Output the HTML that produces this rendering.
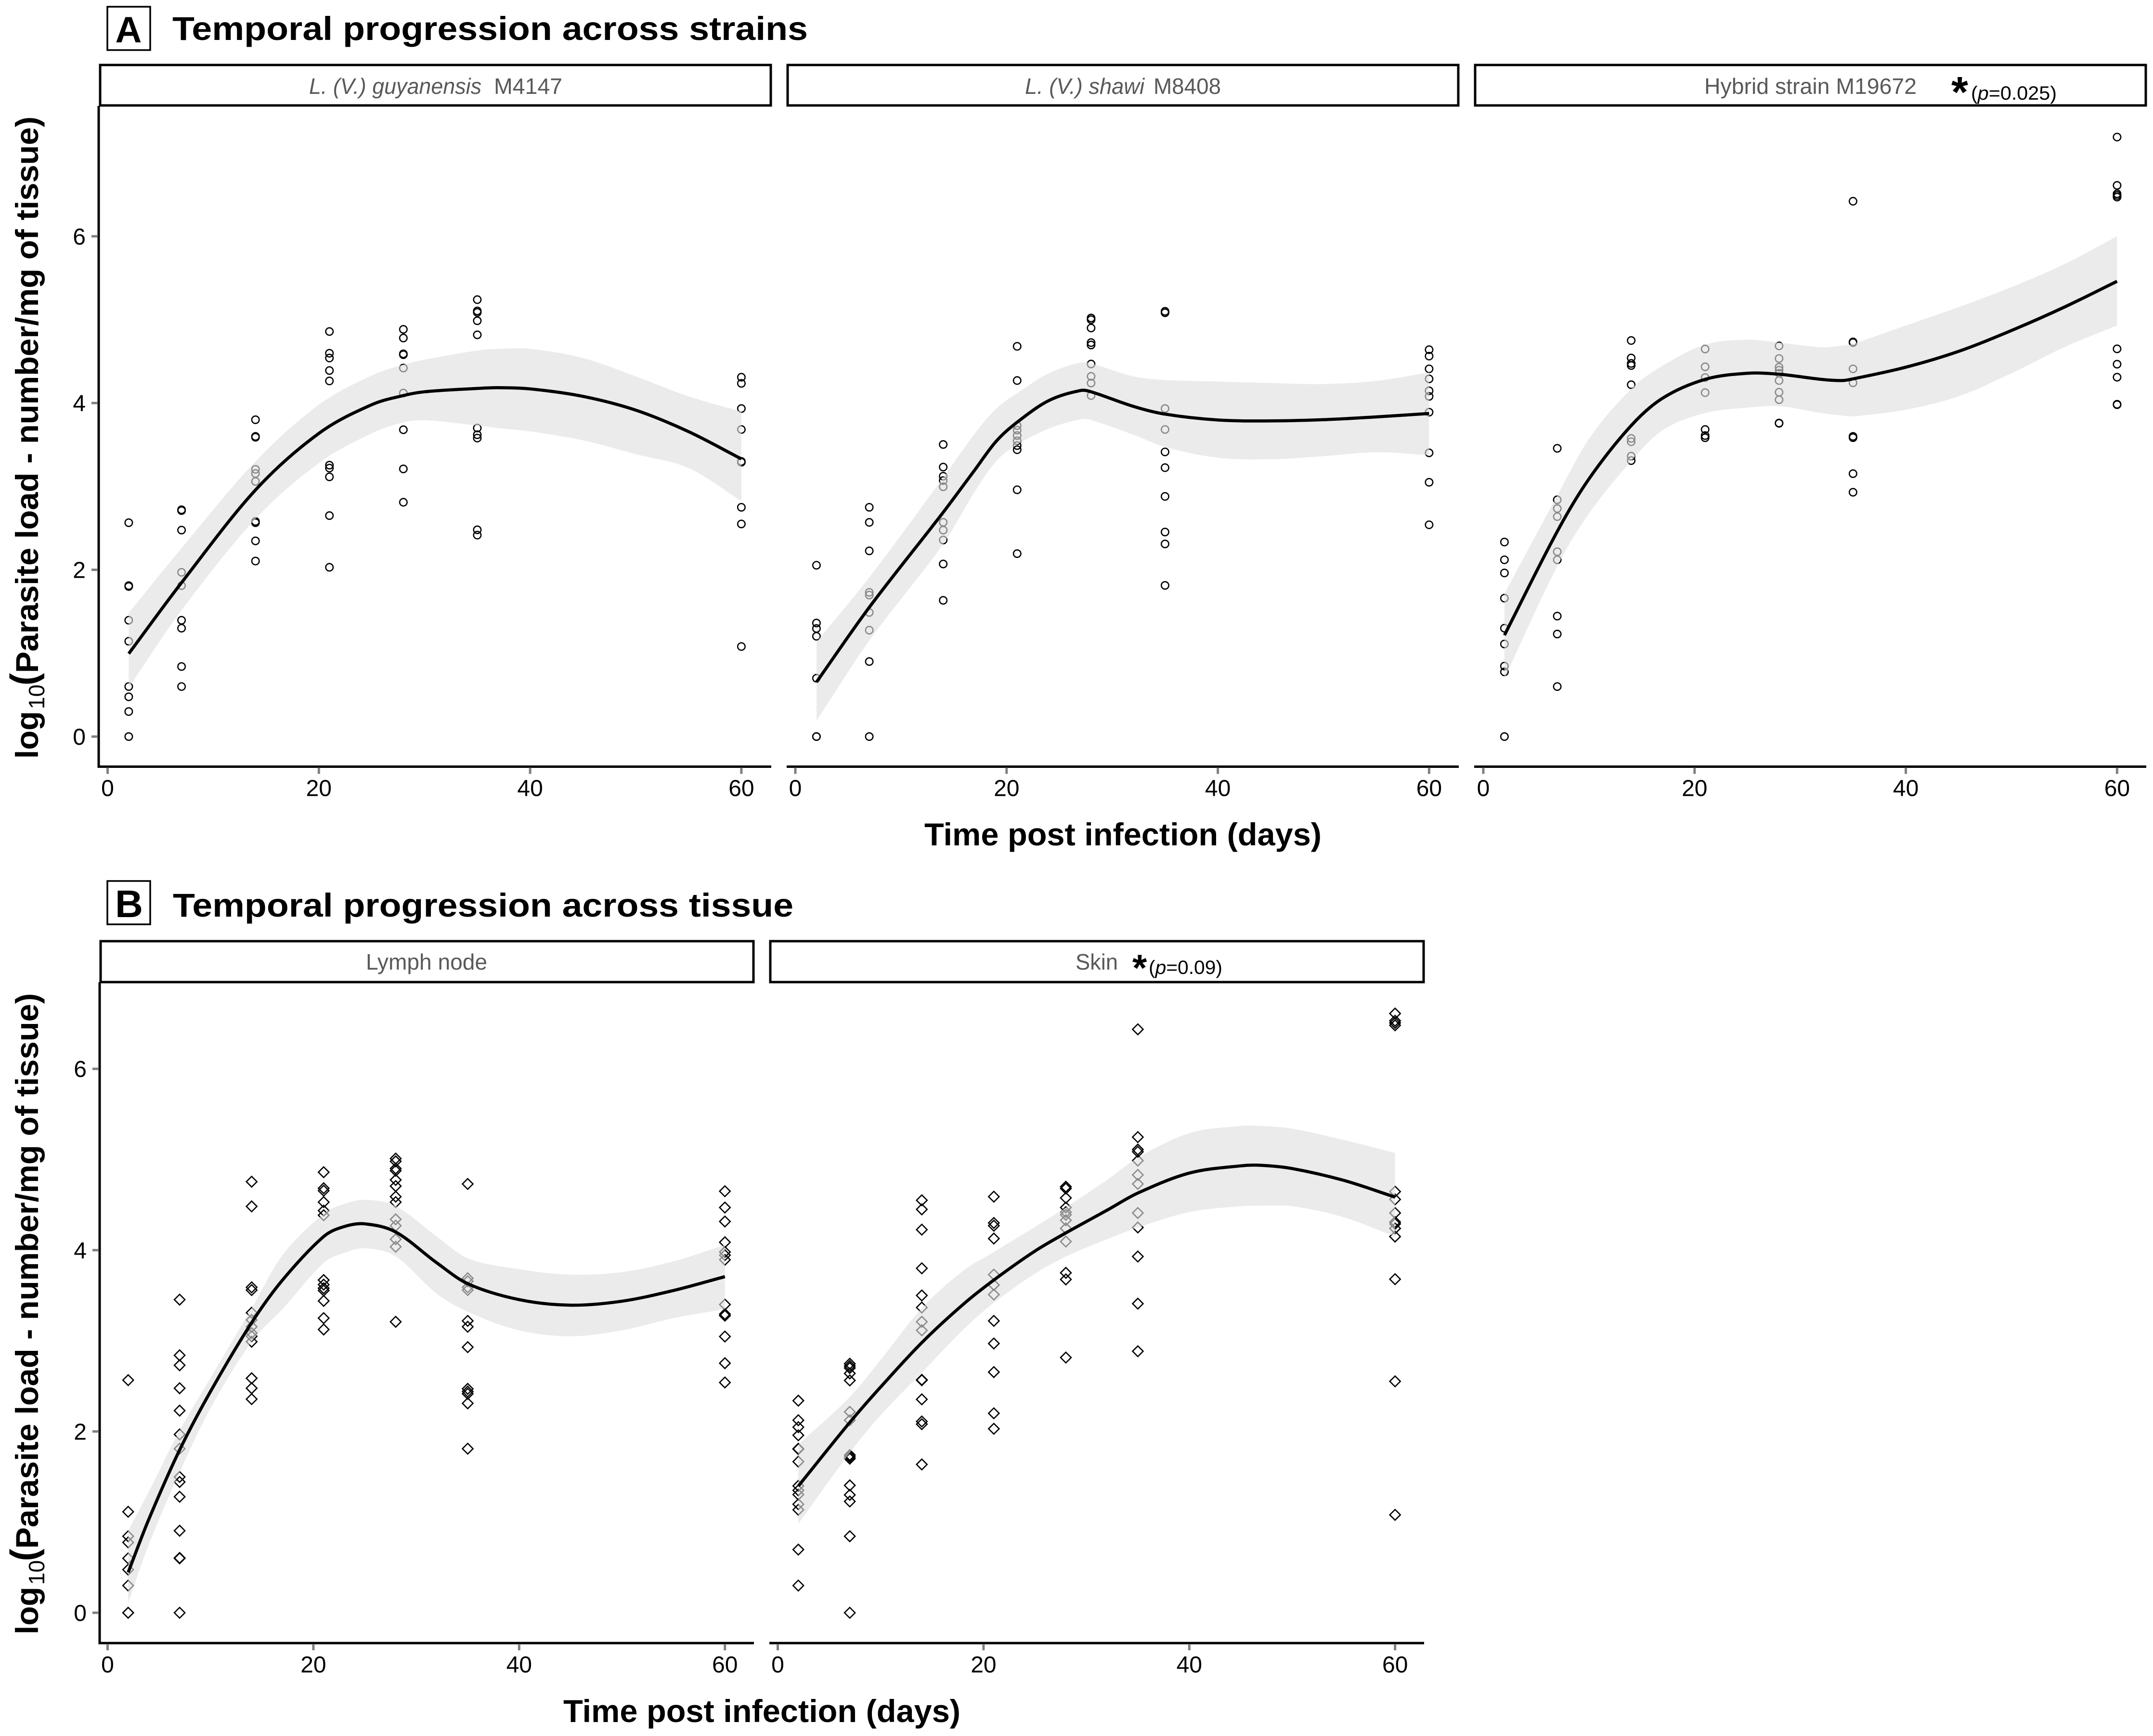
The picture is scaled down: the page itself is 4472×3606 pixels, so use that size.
<!DOCTYPE html>
<html lang="en">
<head>
<meta charset="utf-8">
<title>Temporal progression of parasite load</title>
<style>
html,body{margin:0;padding:0;background:#fff;width:4472px;height:3606px;overflow:hidden}
svg{display:block}
text{font-family:"Liberation Sans",sans-serif}
.title{font-weight:700;font-size:69px;fill:#000}
.tag{font-weight:700;fill:#000;text-anchor:middle}
.axis-title{font-weight:700;font-size:66px;fill:#000}
.strip-text{font-size:46px;fill:#595959}
.p-text{font-size:40px;fill:#000}
.star{font-weight:700;fill:#000}
.tick-label{font-size:48px;fill:#000}
</style>
</head>
<body>
<svg id="chart" xmlns="http://www.w3.org/2000/svg" width="4472" height="3606" viewBox="0 0 4472 3606">
  <rect x="0" y="0" width="4472" height="3606" fill="#fff"/>

  <rect x="223" y="14" width="89" height="90" fill="#fff" stroke="#000" stroke-width="3.5"/>
  <text class="tag" x="267" y="88" font-size="76">A</text>
  <text class="title" x="358" y="83" textLength="1320" lengthAdjust="spacingAndGlyphs">Temporal progression across strains</text>

  <rect x="208" y="135" width="1393" height="84" fill="#fff" stroke="#000" stroke-width="5"/>
  <text class="strip-text" font-style="italic" x="642" y="195" textLength="358" lengthAdjust="spacingAndGlyphs">L. (V.) guyanensis</text>
  <text class="strip-text" x="1026" y="195" textLength="142" lengthAdjust="spacingAndGlyphs">M4147</text>

  <rect x="1636" y="135" width="1393" height="84" fill="#fff" stroke="#000" stroke-width="5"/>
  <text class="strip-text" font-style="italic" x="2129" y="195" textLength="248" lengthAdjust="spacingAndGlyphs">L. (V.) shawi</text>
  <text class="strip-text" x="2396" y="195" textLength="140" lengthAdjust="spacingAndGlyphs">M8408</text>

  <rect x="3064" y="135" width="1393" height="84" fill="#fff" stroke="#000" stroke-width="5"/>
  <text class="strip-text" x="3540" y="195" textLength="441" lengthAdjust="spacingAndGlyphs">Hybrid strain M19672</text>
  <text class="star" x="4053" y="222" font-size="90">*</text>
  <text class="p-text" x="4094" y="207" textLength="178" lengthAdjust="spacingAndGlyphs">(<tspan font-style="italic">p</tspan>=0.025)</text>

  <text class="axis-title" transform="translate(79,1576) rotate(-90)">log</text>
  <text font-size="46" transform="translate(92,1473) rotate(-90)">10</text>
  <text font-size="78" font-weight="700" transform="translate(76,1424) rotate(-90)">(</text>
  <text class="axis-title" transform="translate(79,1398) rotate(-90)" textLength="1156" lengthAdjust="spacingAndGlyphs">Parasite load - number/mg of tissue)</text>
  <text class="axis-title" x="1920" y="1756" textLength="825" lengthAdjust="spacingAndGlyphs">Time post infection (days)</text>

  <rect x="223" y="1830" width="89" height="90" fill="#fff" stroke="#000" stroke-width="3.5"/>
  <text class="tag" x="268" y="1905" font-size="80">B</text>
  <text class="title" x="359" y="1904" textLength="1289" lengthAdjust="spacingAndGlyphs">Temporal progression across tissue</text>

  <rect x="209" y="1955" width="1356" height="85" fill="#fff" stroke="#000" stroke-width="5"/>
  <text class="strip-text" x="760" y="2014" textLength="252" lengthAdjust="spacingAndGlyphs">Lymph node</text>

  <rect x="1600" y="1955" width="1357" height="85" fill="#fff" stroke="#000" stroke-width="5"/>
  <text class="strip-text" x="2234" y="2014" textLength="88" lengthAdjust="spacingAndGlyphs">Skin</text>
  <text class="star" x="2352" y="2037" font-size="78">*</text>
  <text class="p-text" x="2386" y="2023" textLength="153" lengthAdjust="spacingAndGlyphs">(<tspan font-style="italic">p</tspan>=0.09)</text>

  <text class="axis-title" transform="translate(79,3395) rotate(-90)">log</text>
  <text font-size="46" transform="translate(92,3292) rotate(-90)">10</text>
  <text font-size="78" font-weight="700" transform="translate(76,3243) rotate(-90)">(</text>
  <text class="axis-title" transform="translate(79,3217) rotate(-90)" textLength="1154" lengthAdjust="spacingAndGlyphs">Parasite load - number/mg of tissue)</text>
  <text class="axis-title" x="1170" y="3577" textLength="825" lengthAdjust="spacingAndGlyphs">Time post infection (days)</text>
</svg>

<script>
// Shared axis values
const sampleDays = [2, 7, 14, 21, 28, 35, 60];
const xTickValues = [0, 20, 40, 60];
const yTickValues = [0, 2, 4, 6];

// Panel A: L. (V.) guyanensis M4147
const guyLoads = [
  [2.565, 1.80, 1.81, 1.395, 1.143, 0.60, 0.477, 0.30, 0],
  [2.72, 2.71, 2.476, 1.97, 1.81, 1.395, 1.30, 0.84, 0.60],
  [3.80, 3.59, 3.60, 3.205, 3.155, 3.06, 2.58, 2.565, 2.347, 2.105],
  [4.858, 4.597, 4.54, 4.39, 4.265, 3.255, 3.22, 3.115, 2.65, 2.03],
  [4.884, 4.78, 4.58, 4.59, 4.42, 4.12, 3.68, 3.21, 2.81],
  [5.24, 5.105, 5.087, 4.987, 4.818, 3.70, 3.62, 3.58, 2.48, 2.416],
  [4.31, 4.236, 3.934, 3.683, 3.30, 3.29, 2.75, 2.55, 1.08]
];
const guyFitDays = [2, 7, 14, 20, 25, 28, 30, 35, 37, 40, 45, 50, 55, 60];
const guyFit = [0.994, 1.846, 2.957, 3.636, 3.98, 4.09, 4.135, 4.175, 4.184, 4.17, 4.08, 3.915, 3.657, 3.33];
const guyUpper = [1.482, 2.26, 3.30, 3.98, 4.33, 4.46, 4.52, 4.63, 4.65, 4.65, 4.54, 4.32, 4.08, 3.897];
const guyLower = [0.587, 1.515, 2.61, 3.28, 3.636, 3.768, 3.794, 3.73, 3.70, 3.66, 3.553, 3.387, 3.22, 2.824];

// Panel A: L. (V.) shawi M8408
const shawiLoads = [
  [2.055, 1.362, 1.296, 1.203, 0.70, 0, 0],
  [2.75, 2.569, 2.227, 1.73, 1.697, 1.488, 1.276, 0.90, 0],
  [3.503, 3.232, 3.122, 3.07, 2.996, 2.57, 2.476, 2.357, 2.07, 1.634],
  [4.68, 4.27, 3.73, 3.675, 3.61, 3.547, 3.49, 3.44, 2.96, 2.194],
  [5.02, 5.0, 4.90, 4.725, 4.696, 4.468, 4.32, 4.24, 4.09],
  [5.10, 5.083, 3.934, 3.683, 3.414, 3.225, 2.88, 2.453, 2.31, 1.813],
  [4.64, 4.563, 4.41, 4.29, 4.147, 4.08, 3.89, 3.403, 3.05, 2.54]
];
const shawiFitDays = [2, 7, 14, 17, 19, 21, 24, 27, 28, 32, 35, 40, 45, 50, 55, 60];
const shawiFit = [0.653, 1.55, 2.69, 3.2, 3.54, 3.77, 4.03, 4.15, 4.135, 3.96, 3.867, 3.797, 3.786, 3.80, 3.834, 3.875];
const shawiUpper = [1.134, 1.91, 3.106, 3.636, 3.93, 4.118, 4.357, 4.486, 4.475, 4.32, 4.276, 4.258, 4.24, 4.228, 4.265, 4.368];
const shawiLower = [0.19, 1.15, 2.31, 2.94, 3.30, 3.50, 3.694, 3.805, 3.797, 3.62, 3.473, 3.344, 3.326, 3.363, 3.41, 3.374];

// Panel A: Hybrid strain M19672
const hybridLoads = [
  [2.333, 2.12, 1.962, 1.66, 1.30, 1.11, 0.845, 0.776, 0],
  [3.457, 2.84, 2.735, 2.638, 2.217, 2.12, 1.445, 1.23, 0.60],
  [4.75, 4.54, 4.475, 4.45, 4.22, 3.576, 3.536, 3.363, 3.31],
  [4.648, 4.435, 4.306, 4.125, 3.683, 3.61, 3.584],
  [4.685, 4.534, 4.43, 4.394, 4.357, 4.27, 4.13, 4.04, 3.757, 3.76],
  [6.42, 4.733, 4.725, 4.41, 4.243, 3.60, 3.585, 3.153, 2.93],
  [7.19, 6.61, 6.51, 6.49, 6.47, 4.65, 4.466, 4.31, 3.98, 3.985]
];
const hybridFitDays = [2, 7, 10, 14, 17, 21, 25, 28, 32, 34, 35, 40, 45, 50, 55, 60];
const hybridFit = [1.216, 2.46, 3.09, 3.73, 4.06, 4.284, 4.357, 4.346, 4.284, 4.27, 4.29, 4.43, 4.62, 4.87, 5.15, 5.46];
const hybridUpper = [1.714, 2.89, 3.57, 4.17, 4.45, 4.70, 4.76, 4.725, 4.67, 4.69, 4.71, 4.93, 5.15, 5.39, 5.665, 6.0];
const hybridLower = [0.70, 2.045, 2.675, 3.305, 3.676, 3.88, 3.945, 3.963, 3.88, 3.85, 3.84, 3.92, 4.08, 4.357, 4.67, 4.93];

// Panel B: Lymph node
const lymphLoads = [
  [2.566, 1.114, 0.844, 0.776, 0.60, 0.476, 0.30, 0, 0],
  [3.454, 2.84, 2.73, 2.477, 2.23, 1.967, 1.81, 1.498, 1.443, 1.28, 0.905, 0.60, 0.605, 0],
  [4.755, 4.483, 3.59, 3.56, 3.31, 3.23, 3.155, 3.085, 3.05, 2.99, 2.587, 2.477, 2.357],
  [4.86, 4.683, 4.656, 4.53, 4.436, 4.385, 3.67, 3.62, 3.58, 3.555, 3.44, 3.25, 3.125],
  [5.01, 4.98, 4.90, 4.876, 4.775, 4.707, 4.59, 4.53, 4.34, 4.27, 4.12, 4.037, 3.21],
  [4.73, 3.69, 3.657, 3.59, 3.56, 3.22, 3.155, 2.93, 2.47, 2.44, 2.416, 2.31, 1.81],
  [4.65, 4.47, 4.316, 4.087, 3.98, 3.945, 3.894, 3.40, 3.295, 3.277, 3.047, 2.753, 2.54]
];
const lymphFitDays = [2, 4, 7, 10, 14, 17, 21, 23, 25, 28, 32, 35, 40, 45, 50, 55, 60];
const lymphFit = [0.445, 1.03, 1.796, 2.44, 3.2, 3.67, 4.15, 4.26, 4.29, 4.2, 3.86, 3.63, 3.454, 3.393, 3.437, 3.555, 3.708];
const lymphUpper = [0.905, 1.335, 2.01, 2.59, 3.36, 3.944, 4.40, 4.51, 4.555, 4.486, 4.15, 3.91, 3.79, 3.73, 3.758, 3.877, 4.057];
const lymphLower = [0.107, 0.752, 1.55, 2.256, 2.99, 3.35, 3.86, 3.97, 4.02, 3.93, 3.52, 3.32, 3.115, 3.05, 3.115, 3.25, 3.35];

// Panel B: Skin
const skinLoads = [
  [2.34, 2.124, 2.047, 1.958, 1.805, 1.81, 1.667, 1.40, 1.35, 1.304, 1.197, 1.136, 0.697, 0.30],
  [2.747, 2.722, 2.70, 2.64, 2.563, 2.216, 2.124, 1.74, 1.72, 1.70, 1.405, 1.30, 1.228, 0.844, 0],
  [4.55, 4.45, 4.226, 3.80, 3.50, 3.367, 3.21, 3.115, 2.57, 2.565, 2.354, 2.11, 2.08, 1.636],
  [4.59, 4.30, 4.27, 4.128, 3.73, 3.616, 3.51, 3.22, 2.97, 2.655, 2.20, 2.03],
  [4.70, 4.68, 4.576, 4.47, 4.42, 4.39, 4.33, 4.24, 4.095, 3.75, 3.677, 2.815],
  [6.436, 5.247, 5.11, 5.085, 4.988, 4.83, 4.73, 4.41, 4.25, 3.93, 3.41, 2.885],
  [6.61, 6.53, 6.506, 6.48, 4.646, 4.56, 4.41, 4.31, 4.29, 4.24, 4.15, 3.68, 2.553, 1.08]
];
const skinFitDays = [2, 7, 10, 14, 18, 21, 25, 28, 32, 35, 40, 45, 47, 50, 55, 60];
const skinFit = [1.397, 2.10, 2.49, 2.98, 3.40, 3.67, 3.99, 4.19, 4.44, 4.63, 4.85, 4.93, 4.936, 4.90, 4.77, 4.585];
const skinUpper = [1.857, 2.38, 2.79, 3.36, 3.77, 3.98, 4.256, 4.47, 4.774, 5.02, 5.29, 5.37, 5.37, 5.34, 5.216, 5.073];
const skinLower = [0.982, 1.765, 2.18, 2.65, 3.12, 3.42, 3.74, 3.93, 4.12, 4.25, 4.42, 4.485, 4.49, 4.485, 4.363, 4.15];

const SVG_NS = 'http://www.w3.org/2000/svg';
const chart = document.getElementById('chart');

function mk(tag, attrs) {
  const el = document.createElementNS(SVG_NS, tag);
  for (const k in attrs) el.setAttribute(k, attrs[k]);
  chart.appendChild(el);
  return el;
}

function smoothSegments(xs, ys) {
  const n = xs.length;
  const slope = [];
  for (let i = 0; i < n; i++) {
    const a = Math.max(0, i - 1);
    const b = Math.min(n - 1, i + 1);
    slope.push((ys[b] - ys[a]) / (xs[b] - xs[a]));
  }
  let d = '';
  for (let i = 0; i < n - 1; i++) {
    const h = (xs[i + 1] - xs[i]) / 3;
    d += ' C' + (xs[i] + h).toFixed(1) + ',' + (ys[i] + slope[i] * h).toFixed(1) +
         ' ' + (xs[i + 1] - h).toFixed(1) + ',' + (ys[i + 1] - slope[i + 1] * h).toFixed(1) +
         ' ' + xs[i + 1].toFixed(1) + ',' + ys[i + 1].toFixed(1);
  }
  return d;
}

function drawPanel(cfg) {
  const sx = d => cfg.x0 + d * cfg.pxPerDay;
  const sy = v => cfg.y0 - v * cfg.pxPerUnit;

  // Observed points sit beneath the translucent ribbon
  cfg.loads.forEach((vals, di) => {
    vals.forEach(v => {
      const cx = sx(sampleDays[di]);
      const cy = sy(v);
      let mark;
      if (cfg.shape === 'circle') {
        mark = mk('circle', { cx: cx, cy: cy, r: 7.7, fill: 'none', stroke: '#000', 'stroke-width': 2.6 });
      } else {
        const r = 11;
        const pts = [cx, cy - r, cx + r, cy, cx, cy + r, cx - r, cy].map(n => n.toFixed(1)).join(' ');
        mark = mk('polygon', { points: pts, fill: 'none', stroke: '#000', 'stroke-width': 2.6 });
      }
      
      
    });
  });

  // Confidence ribbon
  const xs = cfg.fitDays.map(sx);
  const upY = cfg.upper.map(sy);
  const loY = cfg.lower.map(sy);
  const revX = xs.slice().reverse();
  const revLo = loY.slice().reverse();
  const bandPath = 'M' + xs[0].toFixed(1) + ',' + upY[0].toFixed(1) + smoothSegments(xs, upY) +
    ' L' + revX[0].toFixed(1) + ',' + revLo[0].toFixed(1) +
    smoothSegments(revX.map(x => -x), revLo).replace(/(C| )(-?[\d.]+),/g, (m, p, num) => p + (-parseFloat(num)).toFixed(1) + ',') + ' Z';
  const band = mk('path', { d: bandPath, fill: 'rgb(222,222,222)', 'fill-opacity': 0.62, stroke: 'none' });
  
  

  // Smooth fit line
  const fitY = cfg.fit.map(sy);
  const fitLine = mk('path', {
    d: 'M' + xs[0].toFixed(1) + ',' + fitY[0].toFixed(1) + smoothSegments(xs, fitY),
    fill: 'none', stroke: '#000', 'stroke-width': 6.5
  });
  
  

  // X axis line, ticks, labels
  const xAxis = mk('line', { x1: cfg.left, x2: cfg.right, y1: cfg.axisY, y2: cfg.axisY, stroke: '#000', 'stroke-width': 5 });
  
  

  xTickValues.forEach(t => {
    const tick = mk('line', { x1: sx(t), x2: sx(t), y1: cfg.axisY + 2, y2: cfg.axisY + 15, stroke: '#7f7f7f', 'stroke-width': 5 });
    
    
    const label = mk('text', { x: sx(t), y: cfg.axisY + 61, 'text-anchor': 'middle', class: 'tick-label' });
    label.textContent = String(t);
    
    
  });

  // Y axis only on the first panel of a row
  if (cfg.showY) {
    const yAxis = mk('line', { x1: cfg.left, x2: cfg.left, y1: cfg.axisTop, y2: cfg.axisY + 2.5, stroke: '#000', 'stroke-width': 5 });
    
    
    yTickValues.forEach(t => {
      const tick = mk('line', { x1: cfg.left - 15, x2: cfg.left - 2, y1: sy(t), y2: sy(t), stroke: '#7f7f7f', 'stroke-width': 5 });
      
      
      const label = mk('text', { x: cfg.left - 27, y: sy(t) + 17, 'text-anchor': 'end', class: 'tick-label' });
      label.textContent = String(t);
      
      
    });
  }
}

const rowA = { y0: 1530, pxPerUnit: 173.2, pxPerDay: 21.94, axisY: 1592.5, axisTop: 220 };
const rowB = { y0: 3350, pxPerUnit: 188.3, pxPerDay: 21.37, axisY: 3413, axisTop: 2040 };

drawPanel(Object.assign({}, rowA, { x0: 223.5, left: 205, right: 1602, showY: true, shape: 'circle',
  loads: guyLoads, fitDays: guyFitDays, fit: guyFit, upper: guyUpper, lower: guyLower }));
drawPanel(Object.assign({}, rowA, { x0: 1652, left: 1634, right: 3030, showY: false, shape: 'circle',
  loads: shawiLoads, fitDays: shawiFitDays, fit: shawiFit, upper: shawiUpper, lower: shawiLower }));
drawPanel(Object.assign({}, rowA, { x0: 3081, left: 3062, right: 4458, showY: false, shape: 'circle',
  loads: hybridLoads, fitDays: hybridFitDays, fit: hybridFit, upper: hybridUpper, lower: hybridLower }));
drawPanel(Object.assign({}, rowB, { x0: 223.5, left: 207, right: 1566, showY: true, shape: 'diamond',
  loads: lymphLoads, fitDays: lymphFitDays, fit: lymphFit, upper: lymphUpper, lower: lymphLower }));
drawPanel(Object.assign({}, rowB, { x0: 1615.5, left: 1598, right: 2958, showY: false, shape: 'diamond',
  loads: skinLoads, fitDays: skinFitDays, fit: skinFit, upper: skinUpper, lower: skinLower }));
</script>
</body>
</html>
